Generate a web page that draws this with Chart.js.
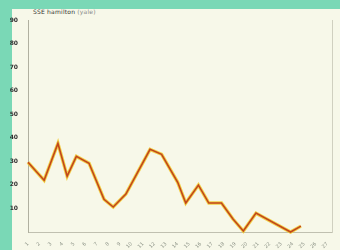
<!DOCTYPE html>
<html lang="en">
<head>
    <meta charset="UTF-8">
    <title>SSE hamilton (yale)</title>
    <script src="https://cdn.jsdelivr.net/npm/chart.js"></script>
    <style>
        html, body { margin: 0; padding: 0; }
        body { width: 340px; height: 250px; background: #7ad8b6; position: relative; overflow: hidden; }
        .paper { position: absolute; left: 12px; top: 9px; width: 328px; height: 241px; background: #f7f8e9; }
        .title { position: absolute; left: 33px; top: 8px; font: 6px "DejaVu Sans", sans-serif; color: #333; letter-spacing: 0.2px; }
        .title span { color: #888; }
        .chart-box { position: absolute; left: 0; top: 0; width: 340px; height: 250px; }
    </style>
</head>
<body>
<div class="paper"></div>
<div class="title">SSE hamilton <span>(yale)</span></div>
<div class="chart-box">
    <canvas id="lineChart" width="340" height="250"></canvas>
</div>

<script>
    // 데이터 (사진에서 읽은 값)
    const dayLabels = ['1', '2', '3', '4', '5', '6', '7', '8', '9', '10', '11', '12', '13', '14',
        '15', '16', '17', '18', '19', '20', '21', '22', '23', '24', '25', '26', '27'];
    const sampleDays = [0, 1.4, 2.6, 3.4, 4.2, 5.3, 6.6, 7.4, 8.5, 10.6, 11.6, 13.0, 13.7, 14.8,
        15.7, 16.8, 17.8, 18.7, 19.8, 22.8, 23.7];
    const sampleValues = [29.6, 22.0, 37.6, 23.7, 32.1, 29.2, 13.9, 10.6, 16.1, 35.1, 33.0, 21.1,
        12.3, 19.9, 12.3, 12.3, 5.5, 0.4, 8.0, 0, 2.5];
    const yTicks = [0, 10, 20, 30, 40, 50, 60, 70, 80, 90];

    const points = sampleDays.map((d, i) => ({ x: d, y: sampleValues[i] }));

    const ctx = document.getElementById('lineChart').getContext('2d');
    new Chart(ctx, {
        type: 'line',
        data: {
            datasets: [{
                label: 'value',
                data: points,
                borderColor: '#c2461c',
                borderWidth: 1.6,
                pointRadius: 0,
                tension: 0,
                clip: false,
                order: 1
            }, {
                label: 'glow',
                data: points,
                borderColor: 'rgba(240, 200, 40, 0.85)',
                borderWidth: 3.4,
                pointRadius: 0,
                tension: 0,
                clip: false,
                order: 2
            }]
        },
        options: {
            responsive: false,
            animation: false,
            layout: { padding: { top: 20, left: 0, right: 0, bottom: 0 } },
            plugins: { legend: { display: false }, tooltip: { enabled: false } },
            scales: {
                x: {
                    type: 'linear',
                    min: 0,
                    max: 26.4,
                    afterFit: s => { s.height = 18; },
                    afterBuildTicks: s => { s.ticks = dayLabels.map((_, i) => ({ value: i })); },
                    grid: { display: false, drawTicks: true },
                    border: { color: '#c0c0b0', width: 1 },
                    ticks: {
                        autoSkip: false,
                        maxRotation: 45,
                        minRotation: 45,
                        padding: 1,
                        color: 'rgba(70, 80, 70, 0.6)',
                        font: { size: 5, family: 'DejaVu Sans' },
                        callback: v => dayLabels[v] ?? ''
                    }
                },
                y: {
                    min: 0,
                    max: 90,
                    afterFit: s => { s.width = 28; },
                    afterBuildTicks: s => { s.ticks = yTicks.map(v => ({ value: v })); },
                    grid: { display: false },
                    border: { color: '#b0b0a0', width: 1 },
                    ticks: {
                        padding: 2,
                        color: '#333',
                        font: { size: 6, weight: 'bold', family: 'DejaVu Sans' },
                        callback: v => v === 0 ? '' : v
                    }
                },
                y2: {
                    position: 'right',
                    min: 0,
                    max: 90,
                    afterFit: s => { s.width = 8; },
                    afterBuildTicks: s => { s.ticks = yTicks.map(v => ({ value: v })); },
                    grid: { display: false, drawOnChartArea: false, tickLength: 3, color: '#999' },
                    border: { color: '#d0d0c0', width: 1 },
                    ticks: { display: false }
                }
            }
        }
    });
</script>
</body>
</html>
